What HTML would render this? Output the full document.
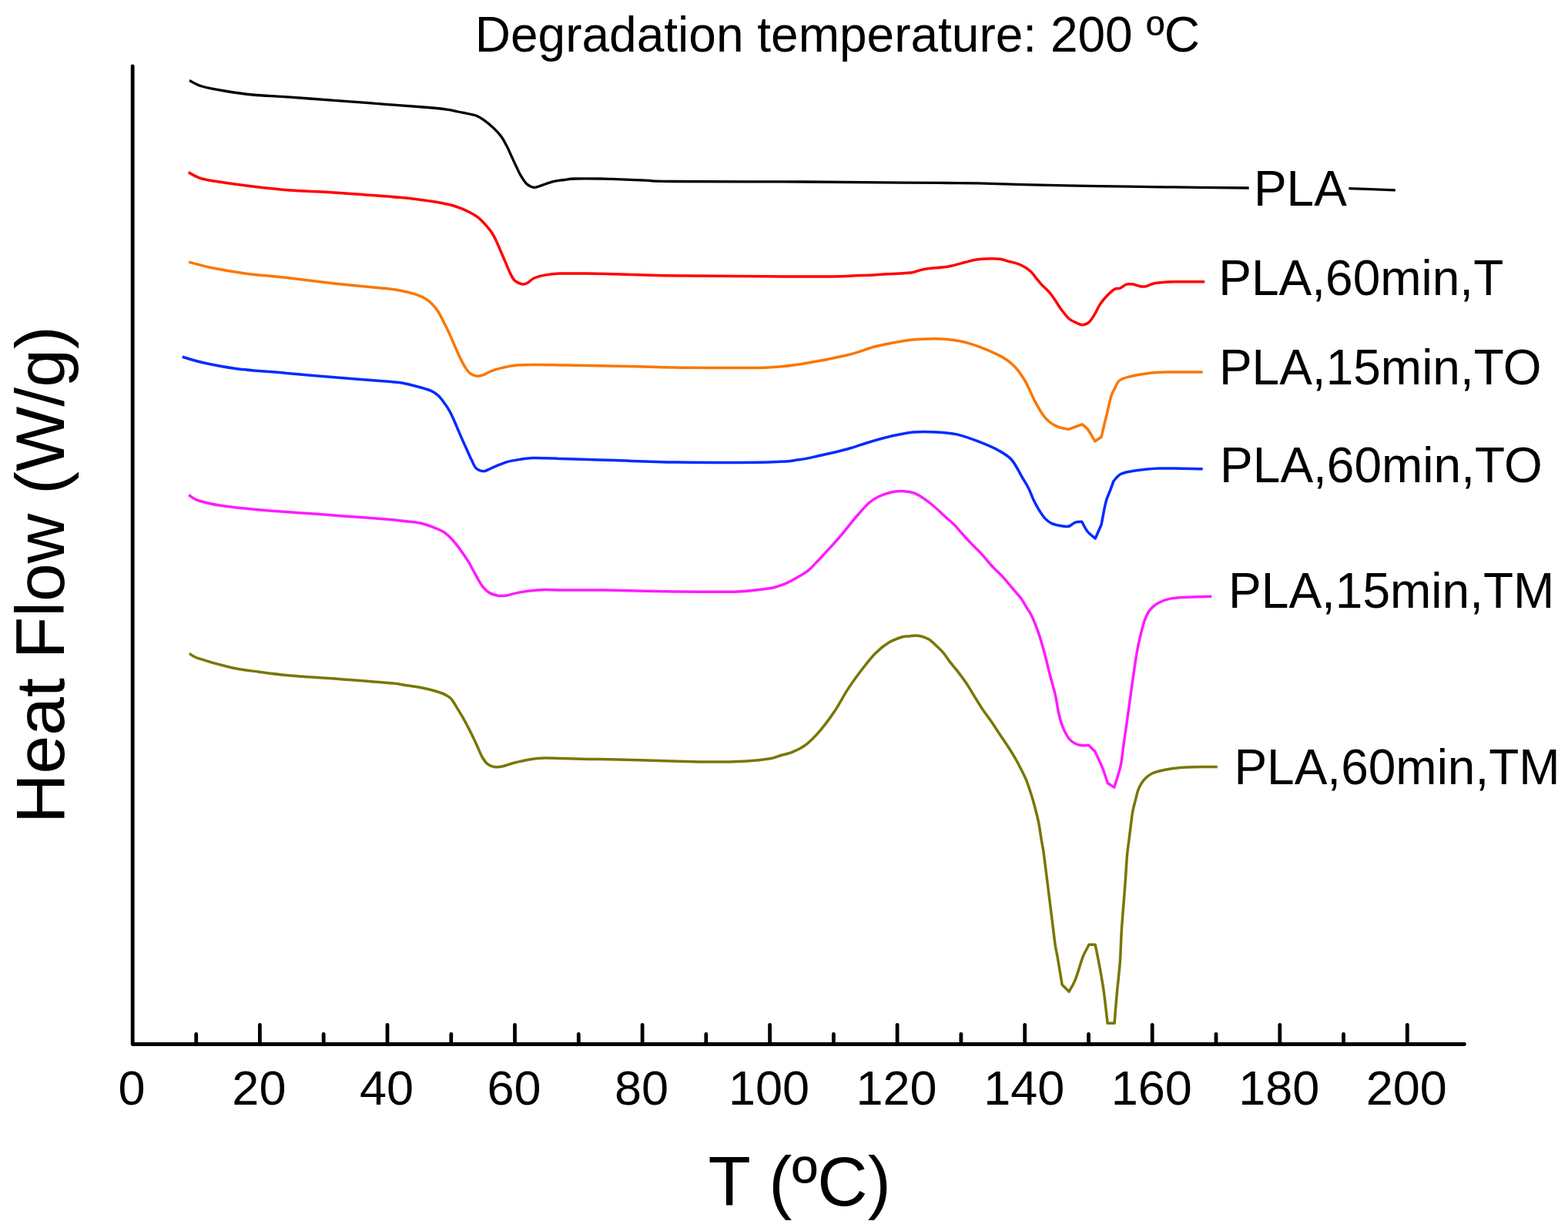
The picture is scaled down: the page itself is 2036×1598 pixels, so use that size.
<!DOCTYPE html>
<html><head><meta charset="utf-8"><title>Degradation temperature: 200 ºC</title>
<style>html,body{margin:0;padding:0;background:#fff;}svg{display:block;}</style></head>
<body>
<svg width="2036" height="1598" viewBox="0 0 2036 1598" font-family="'Liberation Sans', Arial, sans-serif" fill="#000"><path d="M172.2,86 L172.2,1355.5 L1901.5,1355.5" fill="none" stroke="#000" stroke-width="4.8" stroke-linecap="round" stroke-linejoin="round"/>
<line x1="254.7" y1="1342.5" x2="254.7" y2="1355.5" stroke="#000" stroke-width="4.8" stroke-linecap="round"/>
<line x1="337.4" y1="1330.5" x2="337.4" y2="1355.5" stroke="#000" stroke-width="4.8" stroke-linecap="round"/>
<line x1="420.2" y1="1342.5" x2="420.2" y2="1355.5" stroke="#000" stroke-width="4.8" stroke-linecap="round"/>
<line x1="503.0" y1="1330.5" x2="503.0" y2="1355.5" stroke="#000" stroke-width="4.8" stroke-linecap="round"/>
<line x1="585.8" y1="1342.5" x2="585.8" y2="1355.5" stroke="#000" stroke-width="4.8" stroke-linecap="round"/>
<line x1="668.5" y1="1330.5" x2="668.5" y2="1355.5" stroke="#000" stroke-width="4.8" stroke-linecap="round"/>
<line x1="751.3" y1="1342.5" x2="751.3" y2="1355.5" stroke="#000" stroke-width="4.8" stroke-linecap="round"/>
<line x1="834.1" y1="1330.5" x2="834.1" y2="1355.5" stroke="#000" stroke-width="4.8" stroke-linecap="round"/>
<line x1="916.8" y1="1342.5" x2="916.8" y2="1355.5" stroke="#000" stroke-width="4.8" stroke-linecap="round"/>
<line x1="999.6" y1="1330.5" x2="999.6" y2="1355.5" stroke="#000" stroke-width="4.8" stroke-linecap="round"/>
<line x1="1082.4" y1="1342.5" x2="1082.4" y2="1355.5" stroke="#000" stroke-width="4.8" stroke-linecap="round"/>
<line x1="1165.1" y1="1330.5" x2="1165.1" y2="1355.5" stroke="#000" stroke-width="4.8" stroke-linecap="round"/>
<line x1="1247.9" y1="1342.5" x2="1247.9" y2="1355.5" stroke="#000" stroke-width="4.8" stroke-linecap="round"/>
<line x1="1330.7" y1="1330.5" x2="1330.7" y2="1355.5" stroke="#000" stroke-width="4.8" stroke-linecap="round"/>
<line x1="1413.5" y1="1342.5" x2="1413.5" y2="1355.5" stroke="#000" stroke-width="4.8" stroke-linecap="round"/>
<line x1="1496.2" y1="1330.5" x2="1496.2" y2="1355.5" stroke="#000" stroke-width="4.8" stroke-linecap="round"/>
<line x1="1579.0" y1="1342.5" x2="1579.0" y2="1355.5" stroke="#000" stroke-width="4.8" stroke-linecap="round"/>
<line x1="1661.8" y1="1330.5" x2="1661.8" y2="1355.5" stroke="#000" stroke-width="4.8" stroke-linecap="round"/>
<line x1="1744.5" y1="1342.5" x2="1744.5" y2="1355.5" stroke="#000" stroke-width="4.8" stroke-linecap="round"/>
<line x1="1827.3" y1="1330.5" x2="1827.3" y2="1355.5" stroke="#000" stroke-width="4.8" stroke-linecap="round"/>
<g font-size="63" ><text x="170.9" y="1433.6" text-anchor="middle">0</text><text x="336.4" y="1433.6" text-anchor="middle">20</text><text x="502.0" y="1433.6" text-anchor="middle">40</text><text x="667.5" y="1433.6" text-anchor="middle">60</text><text x="833.1" y="1433.6" text-anchor="middle">80</text><text x="998.6" y="1433.6" text-anchor="middle">100</text><text x="1164.1" y="1433.6" text-anchor="middle">120</text><text x="1329.7" y="1433.6" text-anchor="middle">140</text><text x="1495.2" y="1433.6" text-anchor="middle">160</text><text x="1660.8" y="1433.6" text-anchor="middle">180</text><text x="1826.3" y="1433.6" text-anchor="middle">200</text></g>
<path d="M246.0,104.6 C248.7,105.8 254.4,109.8 262.0,112.0 C269.6,114.2 280.4,116.2 291.4,118.0 C302.4,119.8 315.7,121.8 328.0,123.0 C340.3,124.2 352.7,124.6 365.0,125.4 C377.3,126.2 387.7,127.0 402.0,128.0 C416.3,129.0 434.7,130.4 451.0,131.6 C467.3,132.8 483.7,134.1 500.0,135.3 C516.3,136.5 535.7,137.9 549.0,139.0 C562.3,140.1 572.4,141.1 580.0,142.1 C587.6,143.1 589.8,144.0 594.7,145.0 C599.6,146.0 605.4,147.1 609.5,148.0 C613.6,148.9 616.0,149.1 619.3,150.5 C622.6,151.9 625.5,153.7 629.1,156.3 C632.7,158.9 637.3,162.8 640.9,166.2 C644.5,169.6 647.9,173.2 650.7,177.0 C653.5,180.8 655.3,184.4 657.6,188.8 C659.9,193.2 662.4,198.9 664.5,203.5 C666.6,208.1 668.4,212.2 670.4,216.3 C672.4,220.4 674.0,224.3 676.3,228.1 C678.6,231.9 681.1,236.4 684.1,238.9 C687.1,241.4 690.9,243.0 694.0,243.3 C697.1,243.6 698.9,242.0 702.8,240.8 C706.7,239.6 712.6,237.1 717.5,235.9 C722.4,234.7 727.4,234.2 732.3,233.5 C737.2,232.8 739.0,232.2 747.0,232.0 C755.0,231.8 772.2,231.9 780.0,232.0 C787.8,232.1 784.3,231.9 794.0,232.3 C803.7,232.7 825.0,233.7 838.0,234.2 C851.0,234.7 837.7,235.2 872.0,235.5 C906.3,235.8 994.0,235.7 1044.0,236.0 C1094.0,236.3 1141.0,236.9 1172.0,237.2 C1203.0,237.4 1214.2,237.4 1230.0,237.5 C1245.8,237.6 1250.7,237.5 1267.0,237.8 C1283.3,238.2 1301.4,239.0 1328.0,239.6 C1354.6,240.2 1395.8,241.1 1426.5,241.6 C1457.2,242.1 1479.5,242.4 1512.0,242.8 C1544.5,243.2 1603.4,243.8 1621.7,244.0" fill="none" stroke="#000000" stroke-width="3.3" stroke-linejoin="round" stroke-linecap="butt"/>
<path d="M244.7,223.7 C247.6,225.1 254.3,229.8 262.0,232.0 C269.7,234.2 280.0,235.3 291.0,237.0 C302.0,238.7 313.7,240.3 328.0,242.0 C342.3,243.7 360.6,245.8 377.0,247.0 C393.4,248.2 410.1,248.5 426.5,249.5 C442.9,250.5 459.2,251.8 475.6,253.0 C492.0,254.2 510.6,255.4 524.7,256.8 C538.8,258.2 551.7,260.1 560.0,261.3 C568.3,262.5 569.8,262.8 574.7,263.8 C579.6,264.8 585.1,265.9 589.5,267.2 C593.9,268.5 597.7,270.1 601.3,271.6 C604.9,273.1 607.8,274.5 611.1,276.3 C614.4,278.1 617.6,279.8 620.9,282.4 C624.2,285.0 627.8,288.9 630.7,292.2 C633.7,295.5 636.3,298.7 638.6,302.1 C640.9,305.6 642.5,308.8 644.5,312.9 C646.5,317.0 648.4,322.0 650.4,326.6 C652.4,331.2 654.3,335.8 656.3,340.4 C658.3,345.0 660.2,350.2 662.2,354.1 C664.2,358.0 665.5,361.5 668.1,364.0 C670.7,366.5 675.1,368.3 677.9,368.9 C680.7,369.5 682.2,368.7 684.8,367.4 C687.4,366.1 689.9,362.7 693.6,361.0 C697.4,359.3 701.7,358.1 707.3,357.1 C712.9,356.1 718.2,355.4 727.0,355.1 C735.8,354.8 750.1,355.0 760.0,355.1 C769.9,355.2 772.3,355.2 786.6,355.6 C800.9,356.0 827.6,356.9 845.6,357.3 C863.6,357.7 870.2,357.8 894.7,358.0 C919.2,358.2 962.0,358.7 992.9,358.8 C1023.8,358.9 1060.4,359.1 1080.0,358.9 C1099.6,358.7 1102.4,358.1 1110.3,357.8 C1118.2,357.5 1120.7,357.7 1127.5,357.3 C1134.3,356.9 1142.1,356.2 1151.3,355.7 C1160.5,355.1 1174.7,355.0 1182.6,354.0 C1190.5,353.0 1190.8,351.1 1198.9,349.7 C1207.0,348.3 1222.3,347.4 1231.3,345.9 C1240.3,344.4 1247.5,341.9 1252.9,340.5 C1258.3,339.1 1259.2,338.6 1263.7,337.8 C1268.2,337.0 1274.1,336.2 1279.9,335.9 C1285.7,335.6 1293.8,335.6 1298.7,336.2 C1303.6,336.8 1305.6,338.1 1309.5,339.2 C1313.4,340.3 1318.6,341.3 1322.2,342.6 C1325.8,343.9 1328.3,345.3 1331.1,347.0 C1333.9,348.7 1336.6,350.7 1338.9,352.9 C1341.2,355.1 1342.7,357.7 1344.8,360.3 C1346.9,362.9 1348.8,365.4 1351.7,368.6 C1354.7,371.8 1359.4,375.8 1362.5,379.4 C1365.6,383.0 1367.8,386.4 1370.4,390.2 C1373.0,394.0 1375.2,398.1 1378.2,402.0 C1381.2,405.9 1385.0,411.0 1388.1,413.8 C1391.2,416.6 1394.1,417.4 1396.9,418.7 C1399.8,420.0 1402.4,421.7 1405.2,421.7 C1408.0,421.7 1410.9,421.0 1413.6,418.7 C1416.3,416.4 1419.0,411.8 1421.5,407.9 C1424.0,404.0 1425.8,398.9 1428.3,395.1 C1430.8,391.3 1433.1,388.6 1436.2,385.3 C1439.3,382.0 1443.9,377.4 1447.0,375.5 C1450.1,373.6 1452.3,375.1 1454.9,374.0 C1457.5,372.9 1459.9,369.9 1462.7,369.1 C1465.5,368.3 1468.7,368.7 1471.6,369.1 C1474.5,369.5 1477.3,371.2 1480.0,371.6 C1482.7,372.0 1484.6,372.4 1488.0,371.7 C1491.4,371.0 1494.1,368.5 1500.3,367.5 C1506.5,366.5 1514.3,366.1 1524.9,365.8 C1535.5,365.5 1557.6,365.8 1564.1,365.8" fill="none" stroke="#ff0000" stroke-width="3.5" stroke-linejoin="round" stroke-linecap="butt"/>
<path d="M245.1,340.1 C249.9,341.3 261.9,345.0 274.1,347.5 C286.3,350.0 301.9,352.7 318.3,354.9 C334.7,357.1 353.1,358.3 372.3,360.5 C391.5,362.7 413.2,365.6 433.7,367.9 C454.2,370.1 484.1,372.9 495.1,374.0 C506.2,375.1 496.7,373.8 500.0,374.2 C503.3,374.6 509.8,375.4 514.7,376.2 C519.6,377.0 525.1,378.1 529.5,379.2 C533.9,380.3 537.5,381.2 541.3,382.6 C545.1,384.0 548.8,385.5 552.1,387.5 C555.4,389.5 558.1,391.6 560.9,394.4 C563.7,397.2 566.3,400.4 568.8,404.2 C571.2,408.0 573.5,412.9 575.6,417.0 C577.7,421.1 579.7,425.0 581.5,428.8 C583.3,432.6 584.6,435.5 586.4,439.6 C588.2,443.7 590.3,448.9 592.3,453.3 C594.3,457.7 596.2,462.2 598.2,466.1 C600.2,470.0 602.0,473.7 604.1,476.9 C606.2,480.1 608.4,483.3 611.0,485.2 C613.6,487.1 617.0,487.9 619.8,488.2 C622.6,488.4 624.8,487.8 627.7,486.7 C630.7,485.6 633.4,483.4 637.5,481.8 C641.6,480.2 646.6,478.7 652.3,477.4 C658.0,476.1 663.9,474.6 671.9,474.0 C679.9,473.4 689.5,473.5 700.0,473.5 C710.5,473.5 716.0,473.7 735.0,474.0 C754.0,474.3 787.1,474.9 813.7,475.4 C840.3,475.9 864.8,476.9 894.7,477.2 C924.6,477.5 968.5,478.0 993.0,477.2 C1017.5,476.4 1024.2,474.9 1042.0,472.2 C1059.8,469.5 1084.2,464.7 1100.0,461.0 C1115.8,457.3 1124.5,452.9 1136.8,449.8 C1149.1,446.7 1162.7,444.0 1173.7,442.4 C1184.8,440.8 1193.7,440.3 1203.1,440.0 C1212.5,439.7 1220.8,439.5 1230.2,440.5 C1239.6,441.5 1248.5,442.7 1259.6,446.1 C1270.6,449.5 1287.1,456.2 1296.5,460.9 C1305.9,465.6 1310.4,468.9 1316.1,474.4 C1321.8,479.9 1326.3,486.5 1330.8,494.0 C1335.3,501.5 1339.1,512.1 1343.1,519.6 C1347.1,527.1 1351.4,534.4 1354.6,539.0 C1357.8,543.6 1359.7,545.1 1362.5,547.5 C1365.3,549.9 1368.7,551.7 1371.5,553.1 C1374.3,554.5 1376.8,555.0 1379.4,555.7 C1382.0,556.4 1386.0,557.0 1387.3,557.3 C1388.4,556.9 1391.1,555.9 1394.1,554.8 C1397.1,553.7 1403.4,551.5 1405.3,550.8 C1406.4,551.8 1410.2,554.8 1412.1,557.0 C1414.0,559.2 1415.0,561.2 1416.6,563.8 C1418.2,566.4 1420.8,571.3 1421.7,572.8 C1423.1,571.9 1428.7,568.1 1430.1,567.2 C1430.7,564.8 1432.4,557.2 1433.5,552.5 C1434.6,547.8 1435.4,545.2 1436.9,539.0 C1438.4,532.8 1440.9,520.7 1442.6,515.0 C1444.3,509.3 1445.2,508.5 1447.0,505.0 C1448.8,501.5 1450.4,496.6 1453.6,494.0 C1456.8,491.4 1459.3,490.7 1465.9,489.1 C1472.5,487.5 1484.4,485.2 1493.0,484.2 C1501.6,483.2 1506.0,483.2 1517.5,483.0 C1529.0,482.8 1554.3,483.0 1561.7,483.0" fill="none" stroke="#f97700" stroke-width="3.5" stroke-linejoin="round" stroke-linecap="butt"/>
<path d="M236.8,463.2 C241.0,464.4 250.3,467.8 261.8,470.3 C273.3,472.8 287.6,476.0 306.0,478.4 C324.4,480.8 349.0,482.4 372.3,484.5 C395.6,486.6 423.5,488.8 446.0,490.7 C468.5,492.6 495.1,494.6 507.4,495.6 C519.7,496.6 514.6,495.9 520.0,496.8 C525.4,497.7 533.1,499.5 539.6,501.2 C546.1,502.9 554.4,505.1 559.3,507.1 C564.2,509.2 566.1,510.8 569.1,513.5 C572.1,516.2 574.7,520.2 577.0,523.3 C579.3,526.4 580.9,528.8 582.9,532.2 C584.9,535.6 586.8,539.6 588.8,543.9 C590.8,548.1 592.7,553.1 594.7,557.7 C596.7,562.3 598.7,567.0 600.6,571.4 C602.5,575.8 604.5,579.9 606.4,584.2 C608.3,588.5 610.3,593.1 612.3,597.0 C614.3,600.9 615.6,605.3 618.2,607.8 C620.8,610.2 624.7,611.7 628.0,611.7 C631.3,611.7 633.0,609.8 637.9,607.8 C642.8,605.8 651.0,601.9 657.5,599.9 C664.0,597.9 671.5,596.9 677.2,596.0 C682.9,595.1 684.8,594.7 691.9,594.5 C699.0,594.3 713.7,594.8 720.0,595.0 C726.3,595.2 716.7,595.1 729.8,595.5 C742.9,595.9 774.0,596.9 798.7,597.6 C823.5,598.4 845.1,599.6 878.3,600.0 C911.5,600.4 971.2,600.5 997.7,600.0 C1024.2,599.5 1026.5,598.2 1037.5,596.8 C1048.5,595.4 1053.6,593.8 1064.0,591.5 C1074.4,589.2 1089.1,586.0 1100.0,583.0 C1110.9,580.0 1119.7,576.6 1129.5,573.7 C1139.3,570.8 1149.5,567.9 1158.9,565.8 C1168.3,563.7 1176.6,561.7 1186.0,560.9 C1195.4,560.1 1206.0,560.4 1215.4,560.9 C1224.8,561.4 1233.0,561.8 1242.4,563.9 C1251.8,566.0 1262.9,570.2 1271.9,573.7 C1280.9,577.2 1289.5,580.8 1296.5,584.7 C1303.5,588.6 1308.5,591.1 1313.7,597.0 C1318.9,602.9 1323.9,613.9 1327.5,620.0 C1331.1,626.1 1333.0,628.6 1335.4,633.5 C1337.9,638.4 1340.0,644.6 1342.2,649.3 C1344.5,654.0 1346.5,657.8 1348.9,661.7 C1351.3,665.6 1354.0,669.9 1356.8,672.9 C1359.6,675.9 1361.9,678.0 1365.8,679.7 C1369.7,681.4 1376.2,682.5 1380.0,683.1 C1383.8,683.7 1387.0,683.2 1388.4,683.2 C1389.7,682.4 1393.6,679.1 1396.3,678.1 C1399.0,677.1 1403.4,677.4 1404.8,677.3 C1406.0,679.4 1409.2,686.4 1412.1,690.0 C1415.0,693.6 1420.5,697.5 1422.2,699.0 C1423.5,696.0 1428.8,684.0 1430.1,681.0 C1430.7,678.0 1432.4,668.4 1433.5,662.9 C1434.6,657.4 1435.6,652.6 1436.9,648.3 C1438.2,644.0 1439.9,641.0 1441.4,637.0 C1442.9,633.0 1445.2,626.7 1445.9,624.6 C1447.4,623.1 1451.0,617.8 1454.9,615.6 C1458.8,613.5 1461.1,613.0 1469.5,611.7 C1477.9,610.5 1489.8,608.6 1505.2,608.1 C1520.6,607.6 1552.3,608.7 1561.7,608.8" fill="none" stroke="#002bff" stroke-width="3.5" stroke-linejoin="round" stroke-linecap="butt"/>
<path d="M245.1,642.6 C247.1,643.8 250.0,647.2 256.9,649.5 C263.8,651.8 273.3,654.3 286.4,656.3 C299.5,658.3 317.1,660.1 335.5,661.7 C353.9,663.4 378.5,664.8 396.9,666.2 C415.3,667.6 427.6,668.5 446.0,669.9 C464.4,671.3 493.4,673.3 507.4,674.5 C521.4,675.7 524.6,676.5 530.0,677.1 C535.4,677.7 535.7,677.4 539.8,678.1 C543.9,678.8 550.0,680.1 554.6,681.5 C559.2,682.9 563.5,684.8 567.3,686.4 C571.1,688.0 574.2,689.3 577.2,691.3 C580.2,693.3 582.4,695.6 585.0,698.2 C587.6,700.8 590.3,703.8 592.9,707.1 C595.5,710.4 598.1,714.1 600.7,717.9 C603.3,721.7 606.3,725.9 608.6,729.7 C610.9,733.5 612.5,736.9 614.5,740.5 C616.5,744.1 618.3,747.7 620.4,751.3 C622.5,754.9 624.6,759.0 627.2,762.1 C629.8,765.2 632.7,768.0 636.1,769.9 C639.5,771.8 644.3,772.9 647.9,773.4 C651.5,773.9 653.6,773.6 657.7,772.9 C661.8,772.2 667.5,770.4 672.4,769.4 C677.3,768.4 681.5,767.6 687.2,767.0 C692.9,766.4 699.7,765.7 706.8,765.5 C713.9,765.3 716.9,765.9 730.0,766.0 C743.1,766.1 760.8,765.7 785.5,766.0 C810.2,766.3 849.6,767.6 878.3,767.9 C907.0,768.2 938.0,768.6 957.9,767.9 C977.8,767.2 989.0,765.0 997.7,763.9 C1006.4,762.8 1005.8,762.4 1010.0,761.1 C1014.2,759.8 1018.3,758.3 1023.0,756.1 C1027.7,753.9 1033.5,750.8 1038.0,748.1 C1042.5,745.4 1046.3,743.1 1050.0,740.1 C1053.7,737.1 1056.3,733.9 1060.0,730.1 C1063.7,726.3 1068.1,721.4 1072.1,717.1 C1076.1,712.8 1080.1,708.6 1084.1,704.1 C1088.1,699.6 1092.1,694.9 1096.1,690.1 C1100.1,685.3 1104.9,679.0 1108.1,675.1 C1111.3,671.2 1111.8,670.7 1115.1,667.0 C1118.4,663.3 1123.9,656.7 1128.1,653.0 C1132.3,649.3 1135.6,647.2 1140.1,645.0 C1144.6,642.8 1150.2,640.8 1155.2,639.5 C1160.2,638.2 1166.1,637.6 1170.2,637.5 C1174.3,637.4 1176.9,638.1 1180.0,638.6 C1183.1,639.1 1185.6,639.3 1189.0,640.8 C1192.4,642.3 1196.2,644.7 1200.3,647.6 C1204.4,650.5 1209.3,654.4 1213.8,658.3 C1218.3,662.1 1223.2,667.0 1227.3,670.7 C1231.4,674.5 1234.8,677.0 1238.6,680.8 C1242.3,684.5 1246.0,689.1 1249.8,693.2 C1253.5,697.3 1257.0,701.3 1261.1,705.6 C1265.2,709.9 1270.3,714.4 1274.6,719.1 C1278.9,723.8 1282.5,728.8 1287.0,733.7 C1291.5,738.6 1296.9,743.3 1301.6,748.4 C1306.3,753.5 1311.0,759.2 1315.1,764.1 C1319.2,769.0 1323.4,773.6 1326.4,777.7 C1329.4,781.8 1331.0,785.2 1333.2,788.9 C1335.5,792.6 1337.3,794.3 1339.9,800.0 C1342.5,805.7 1346.1,814.6 1348.9,822.9 C1351.7,831.1 1354.3,840.6 1356.7,849.5 C1359.1,858.4 1361.0,867.1 1363.3,876.0 C1365.6,884.9 1368.6,894.5 1370.4,902.6 C1372.2,910.7 1372.9,917.8 1374.4,924.5 C1375.9,931.2 1377.3,937.2 1379.6,942.9 C1381.9,948.6 1385.2,955.0 1388.0,958.7 C1390.8,962.4 1393.8,963.8 1396.3,965.3 C1398.8,966.8 1400.4,967.1 1403.3,967.5 C1406.2,967.9 1412.0,967.5 1413.8,967.5 C1415.1,968.8 1420.4,974.0 1421.7,975.3 C1423.3,978.8 1428.5,989.5 1431.3,996.4 C1434.1,1003.3 1437.1,1013.1 1438.3,1016.5 C1439.7,1017.5 1445.3,1021.2 1446.7,1022.2 C1448.1,1017.6 1453.0,1003.3 1455.0,994.6 C1457.0,985.9 1457.2,979.3 1458.5,970.1 C1459.8,960.9 1461.5,949.6 1462.9,939.4 C1464.4,929.2 1465.6,920.5 1467.2,908.8 C1468.8,897.1 1470.9,881.5 1472.7,869.4 C1474.5,857.3 1475.9,847.3 1478.3,836.2 C1480.7,825.1 1484.0,811.1 1487.1,803.0 C1490.2,794.9 1492.4,791.7 1497.0,787.6 C1501.6,783.5 1508.1,780.3 1514.7,778.3 C1521.3,776.3 1527.0,776.1 1536.8,775.4 C1546.6,774.7 1567.2,774.5 1573.3,774.3" fill="none" stroke="#ff1aff" stroke-width="3.5" stroke-linejoin="round" stroke-linecap="butt"/>
<path d="M245.9,848.2 C247.7,849.2 248.1,851.4 256.9,854.4 C265.7,857.4 285.6,863.2 298.7,866.2 C311.8,869.2 322.4,870.3 335.5,872.1 C348.6,873.9 358.9,875.4 377.3,877.0 C395.7,878.6 424.3,880.3 446.0,881.9 C467.7,883.5 493.4,885.4 507.4,886.8 C521.4,888.2 523.8,889.2 530.0,890.1 C536.2,891.0 539.8,891.4 544.7,892.3 C549.6,893.2 555.1,894.4 559.5,895.5 C563.9,896.6 568.0,897.9 571.3,899.0 C574.6,900.1 576.6,901.0 579.1,902.4 C581.6,903.8 583.7,904.7 586.0,907.3 C588.3,909.9 590.4,914.2 592.9,918.1 C595.4,922.0 598.1,926.3 600.7,930.9 C603.3,935.5 606.3,941.2 608.6,945.6 C610.9,950.0 612.5,953.3 614.5,957.4 C616.5,961.5 618.4,965.9 620.4,970.2 C622.4,974.5 624.2,979.4 626.3,983.0 C628.4,986.6 630.3,989.7 633.1,991.8 C635.9,993.9 639.7,995.2 643.0,995.7 C646.3,996.2 648.7,995.7 652.8,994.8 C656.9,993.9 661.8,991.8 667.5,990.3 C673.2,988.8 680.7,986.9 687.2,985.9 C693.8,984.9 699.7,984.2 706.8,984.0 C713.9,983.8 720.5,984.2 730.0,984.4 C739.5,984.6 751.7,985.1 763.9,985.4 C776.1,985.6 785.1,985.5 803.1,985.9 C821.1,986.3 852.2,987.4 871.9,987.9 C891.5,988.4 904.6,989.1 921.0,989.1 C937.4,989.1 956.9,988.6 970.1,987.9 C983.3,987.2 993.0,985.9 1000.0,984.8 C1007.0,983.7 1006.9,982.7 1011.9,981.2 C1016.9,979.7 1023.8,978.5 1029.7,975.9 C1035.7,973.3 1041.6,970.5 1047.6,965.8 C1053.5,961.1 1059.5,954.8 1065.4,947.9 C1071.3,941.0 1077.2,933.0 1083.2,924.1 C1089.2,915.2 1095.1,903.5 1101.1,894.4 C1107.0,885.3 1113.0,877.2 1118.9,869.5 C1124.8,861.8 1130.8,854.0 1136.7,848.0 C1142.7,842.0 1148.6,837.4 1154.6,833.8 C1160.5,830.2 1168.2,827.9 1172.4,826.6 C1176.6,825.3 1177.1,826.3 1180.0,826.0 C1182.9,825.7 1186.6,824.8 1189.6,824.9 C1192.6,825.0 1195.3,825.6 1198.1,826.5 C1200.9,827.4 1203.8,828.3 1206.6,830.2 C1209.4,832.1 1212.1,834.9 1215.1,837.7 C1218.1,840.5 1221.7,843.7 1224.7,847.2 C1227.7,850.7 1230.2,855.0 1233.2,858.9 C1236.2,862.8 1239.2,866.0 1242.8,870.6 C1246.3,875.2 1250.8,881.1 1254.5,886.6 C1258.2,892.1 1261.6,897.9 1265.1,903.6 C1268.6,909.3 1272.2,915.3 1275.7,920.6 C1279.2,925.9 1282.9,930.4 1286.4,935.5 C1290.0,940.6 1293.5,946.2 1297.0,951.5 C1300.5,956.8 1304.7,962.8 1307.7,967.4 C1310.7,972.0 1312.8,975.2 1315.1,979.0 C1317.4,982.8 1318.7,984.9 1321.5,990.3 C1324.3,995.7 1329.2,1004.9 1332.0,1011.3 C1334.8,1017.7 1336.6,1024.0 1338.2,1028.8 C1339.8,1033.6 1340.5,1036.1 1341.7,1040.2 C1342.9,1044.3 1344.0,1048.6 1345.2,1053.3 C1346.4,1058.0 1347.5,1062.1 1348.7,1068.2 C1349.9,1074.3 1351.2,1083.7 1352.2,1090.0 C1353.2,1096.3 1353.7,1096.8 1355.0,1106.1 C1356.3,1115.4 1358.4,1132.8 1360.1,1146.1 C1361.8,1159.4 1363.4,1172.8 1365.1,1186.2 C1366.8,1199.6 1368.8,1216.9 1370.1,1226.2 C1371.4,1235.5 1371.6,1233.5 1373.1,1242.2 C1374.6,1250.9 1378.1,1272.2 1379.1,1278.2 C1380.6,1279.7 1386.6,1285.8 1388.1,1287.3 C1389.4,1284.8 1393.1,1279.7 1396.1,1272.2 C1399.1,1264.7 1403.1,1249.9 1406.1,1242.2 C1409.1,1234.5 1412.8,1228.9 1414.1,1226.2 C1415.4,1226.2 1420.8,1226.2 1422.1,1226.2 C1423.1,1231.2 1426.3,1246.2 1428.1,1256.2 C1429.9,1266.2 1431.4,1274.3 1433.1,1286.3 C1434.8,1298.3 1437.3,1321.3 1438.1,1328.3 C1439.6,1328.3 1445.6,1328.3 1447.1,1328.3 C1447.6,1322.0 1449.0,1303.3 1450.2,1290.3 C1451.4,1277.3 1453.2,1263.5 1454.2,1250.2 C1455.2,1236.9 1455.4,1223.6 1456.2,1210.2 C1457.0,1196.8 1458.3,1181.8 1459.2,1170.1 C1460.1,1158.4 1460.8,1150.0 1461.5,1140.0 C1462.2,1130.0 1462.8,1118.5 1463.5,1110.2 C1464.2,1101.9 1465.2,1096.8 1466.0,1090.1 C1466.8,1083.4 1467.7,1076.4 1468.5,1070.1 C1469.3,1063.8 1470.0,1057.4 1471.0,1052.1 C1472.0,1046.8 1473.3,1042.6 1474.5,1038.1 C1475.7,1033.6 1476.7,1028.6 1478.0,1025.1 C1479.3,1021.6 1480.4,1019.6 1482.1,1017.0 C1483.8,1014.4 1485.8,1011.7 1488.1,1009.5 C1490.4,1007.3 1493.3,1005.4 1496.1,1004.0 C1498.9,1002.6 1501.1,1002.0 1505.1,1001.0 C1509.1,1000.0 1514.3,998.8 1520.1,998.0 C1525.9,997.2 1532.4,996.4 1540.1,996.0 C1547.8,995.6 1559.4,995.6 1566.2,995.5 C1573.0,995.4 1578.3,995.5 1580.7,995.5" fill="none" stroke="#777700" stroke-width="3.5" stroke-linejoin="round" stroke-linecap="butt"/>
<path d="M1751.4,244.6 L1780,245.6 L1811.8,246.9" stroke="#000" stroke-width="3.2" fill="none"/>
<text x="1627.9" y="267.0" font-size="64">PLA</text>
<text x="1582.3" y="383.3" font-size="64">PLA,60min,T</text>
<text x="1582.9" y="498.7" font-size="64">PLA,15min,TO</text>
<text x="1584.1" y="625.5" font-size="64">PLA,60min,TO</text>
<text x="1595.1" y="788.8" font-size="64">PLA,15min,TM</text>
<text x="1602.4" y="1018.0" font-size="64">PLA,60min,TM</text>
<text x="616.8" y="67" font-size="64">Degradation temperature: 200 ºC</text>
<text x="919.4" y="1564.7" font-size="90.5">T (ºC)</text>
<text transform="translate(82.6,1069) rotate(-90)" x="0" y="0" font-size="89.4">Heat Flow (W/g)</text></svg>
</body></html>
